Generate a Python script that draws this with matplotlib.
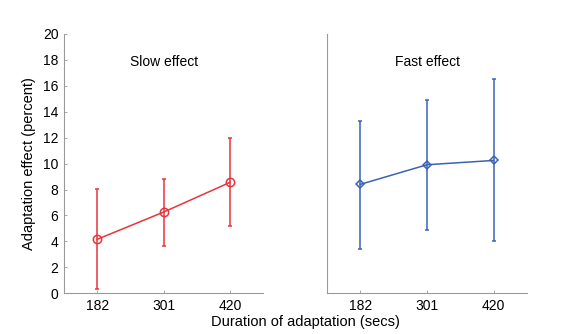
import numpy as np
import matplotlib
matplotlib.use("Agg")
import matplotlib.pyplot as plt

plt.rcParams['font.family'] = ['Liberation Sans', 'DejaVu Sans']

durations = ["182", "301", "420"]
slow_mean = np.array([4.16, 6.26, 8.55])
slow_low = np.array([0.31, 3.67, 5.16])
slow_high = np.array([8.01, 8.78, 11.94])
fast_mean = np.array([8.40, 9.91, 10.24])
fast_low = np.array([3.44, 4.88, 4.06])
fast_high = np.array([13.30, 14.92, 16.51])

red = "#e8343c"
blue = "#3b63b5"
gray = "#9a9a9a"

fig = plt.figure(figsize=(5.74, 3.34), dpi=100)
ax1 = fig.add_axes([0.1115, 0.1218, 0.347, 0.777])
ax2 = fig.add_axes([0.570, 0.1218, 0.348, 0.777])

x = np.arange(1, 4)


def draw(ax, mean, low, high, color, marker, msize, title):
    err = np.vstack([mean - low, high - mean])
    ax.errorbar(x, mean, yerr=err, color=color, marker=marker, markersize=msize,
                markerfacecolor="none", markeredgewidth=1.1, linewidth=1.1,
                elinewidth=1.1, capsize=1.2)
    ax.set_xlim(0.5, 3.5)
    ax.set_ylim(0, 20)
    ax.set_xticks(x)
    ax.set_xticklabels(durations, fontsize=10)
    for s in ["top", "right"]:
        ax.spines[s].set_visible(False)
    for s in ["left", "bottom"]:
        ax.spines[s].set_color(gray)
        ax.spines[s].set_linewidth(0.8)
    ax.tick_params(direction="in", length=2, width=0.6, color=gray,
                   labelsize=10, pad=4)
    ax.text(2.0, 17.8, title, ha="center", va="center", fontsize=10)


draw(ax1, slow_mean, slow_low, slow_high, red, "o", 6, "Slow effect")
draw(ax2, fast_mean, fast_low, fast_high, blue, "D", 4.5, "Fast effect")

ax1.set_yticks(np.arange(0, 21, 2))
ax2.set_yticks([])
ax1.set_ylabel("Adaptation effect (percent)", fontsize=10.5, labelpad=5)
fig.text(0.532, 0.035, "Duration of adaptation (secs)", ha="center",
         va="center", fontsize=10.5)

fig.savefig("out.png", dpi=100)
